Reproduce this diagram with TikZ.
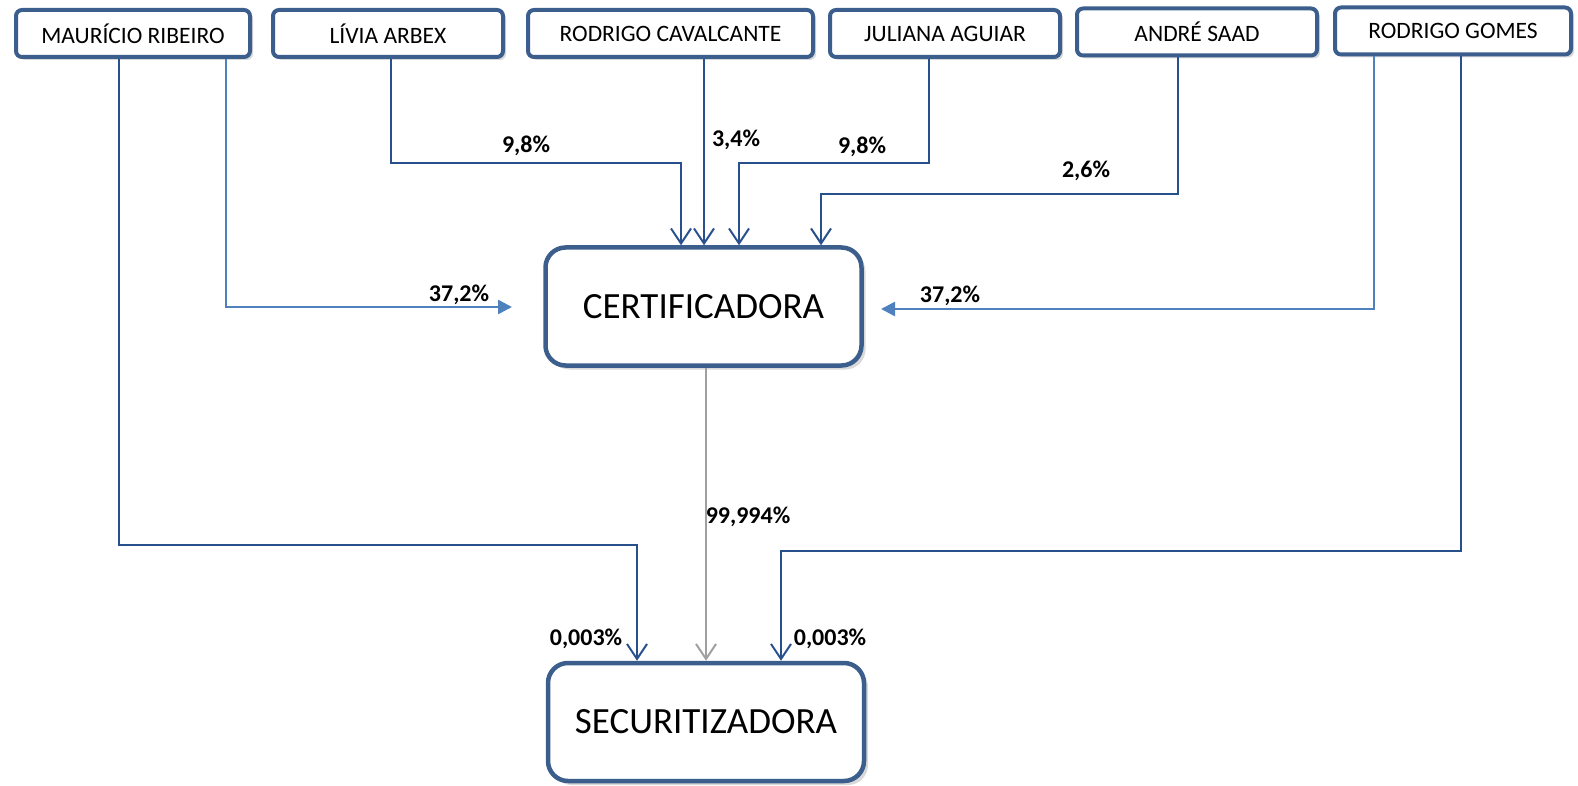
\documentclass[tikz,border=0pt]{standalone}
\usepackage{fontspec}
\setmainfont{Carlito}
\usetikzlibrary{arrows.meta,shadows,calc}
\definecolor{boxborder}{RGB}{59,94,140}
\definecolor{darkline}{RGB}{40,80,140}
\definecolor{lightline}{RGB}{79,129,189}
\definecolor{grayline}{RGB}{160,160,160}
\begin{document}
\begin{tikzpicture}[x=1pt,y=-1pt,
  topbox/.style={draw=boxborder,line width=4pt,rounded corners=6pt,fill=white,
    minimum height=47pt,inner sep=0pt,font=\fontsize{23.5}{26}\selectfont,
    drop shadow={shadow xshift=3pt,shadow yshift=-3pt,opacity=0.3}},
  bigbox/.style={draw=boxborder,line width=4.5pt,rounded corners=20pt,fill=white,
    minimum width=316pt,minimum height=118pt,inner sep=0pt,font=\fontsize{37}{40}\selectfont,
    drop shadow={shadow xshift=4pt,shadow yshift=-4pt,opacity=0.3}},
  dline/.style={draw=darkline,line width=2pt,-{Straight Barb[length=15pt,width=20pt,line width=2pt]}},
  lline/.style={draw=lightline,line width=2.5pt,-{Triangle[length=14pt,width=14pt]}},
  gline/.style={draw=grayline,line width=2pt,-{Straight Barb[length=15pt,width=20pt,line width=2pt]}},
  pct/.style={font=\bfseries\fontsize{24}{26}\selectfont,inner sep=0pt}]
\useasboundingbox (0,0) rectangle (1578,786);

% top boxes
\node[topbox,minimum width=234pt] (maur) at (133,33.5) {MAURÍCIO RIBEIRO};
\node[topbox,minimum width=230pt] (livia) at (388,33.5) {LÍVIA ARBEX};
\node[topbox,minimum width=285pt] (rodc) at (670.5,33.5) {RODRIGO CAVALCANTE};
\node[topbox,minimum width=230pt] (jul) at (945,33.5) {JULIANA AGUIAR};
\node[topbox,minimum width=240pt] (andre) at (1197,32) {ANDRÉ SAAD};
\node[topbox,minimum width=236pt] (rodg) at (1453,31) {RODRIGO GOMES};

% central boxes
\node[bigbox] (cert) at (703.5,306.5) {CERTIFICADORA};
\node[bigbox] (secu) at (706,722) {SECURITIZADORA};

% free ends
\coordinate (lt) at (512,307);
\coordinate (rt) at (881,309);

% connectors to certificadora
\draw[dline] (livia.south -| 391,0) |- (681,163) -- (cert.north -| 681,0);
\draw[dline] (rodc.south -| 704,0) -- (cert.north -| 704,0);
\draw[dline] (jul.south -| 929,0) |- (739,163) -- (cert.north -| 739,0);
\draw[dline] (andre.south -| 1178,0) |- (821,194) -- (cert.north -| 821,0);
\draw[lline] (maur.south -| 226,0) |- (lt);
\draw[lline] (rodg.south -| 1374,0) |- (rt);

% connectors to securitizadora
\draw[dline] (maur.south -| 119,0) |- (637,545) -- (secu.north -| 637,0);
\draw[dline] (rodg.south -| 1461,0) |- (781,551) -- (secu.north -| 781,0);
\draw[gline] (cert.south -| 706,0) -- (secu.north -| 706,0);

% labels
\node[pct] (l1) at (526,146) {9,8\%};
\node[pct] (l2) at (736,140) {3,4\%};
\node[pct] (l3) at (862,147) {9,8\%};
\node[pct] (l4) at (1086,171) {2,6\%};
\node[pct] (l5) at (459,295) {37,2\%};
\node[pct] (l6) at (950,296) {37,2\%};
\node[pct] (l7) at (748,517) {99,994\%};
\node[pct] (l8) at (586,639) {0,003\%};
\node[pct] (l9) at (830,639) {0,003\%};
\end{tikzpicture}
\end{document}
